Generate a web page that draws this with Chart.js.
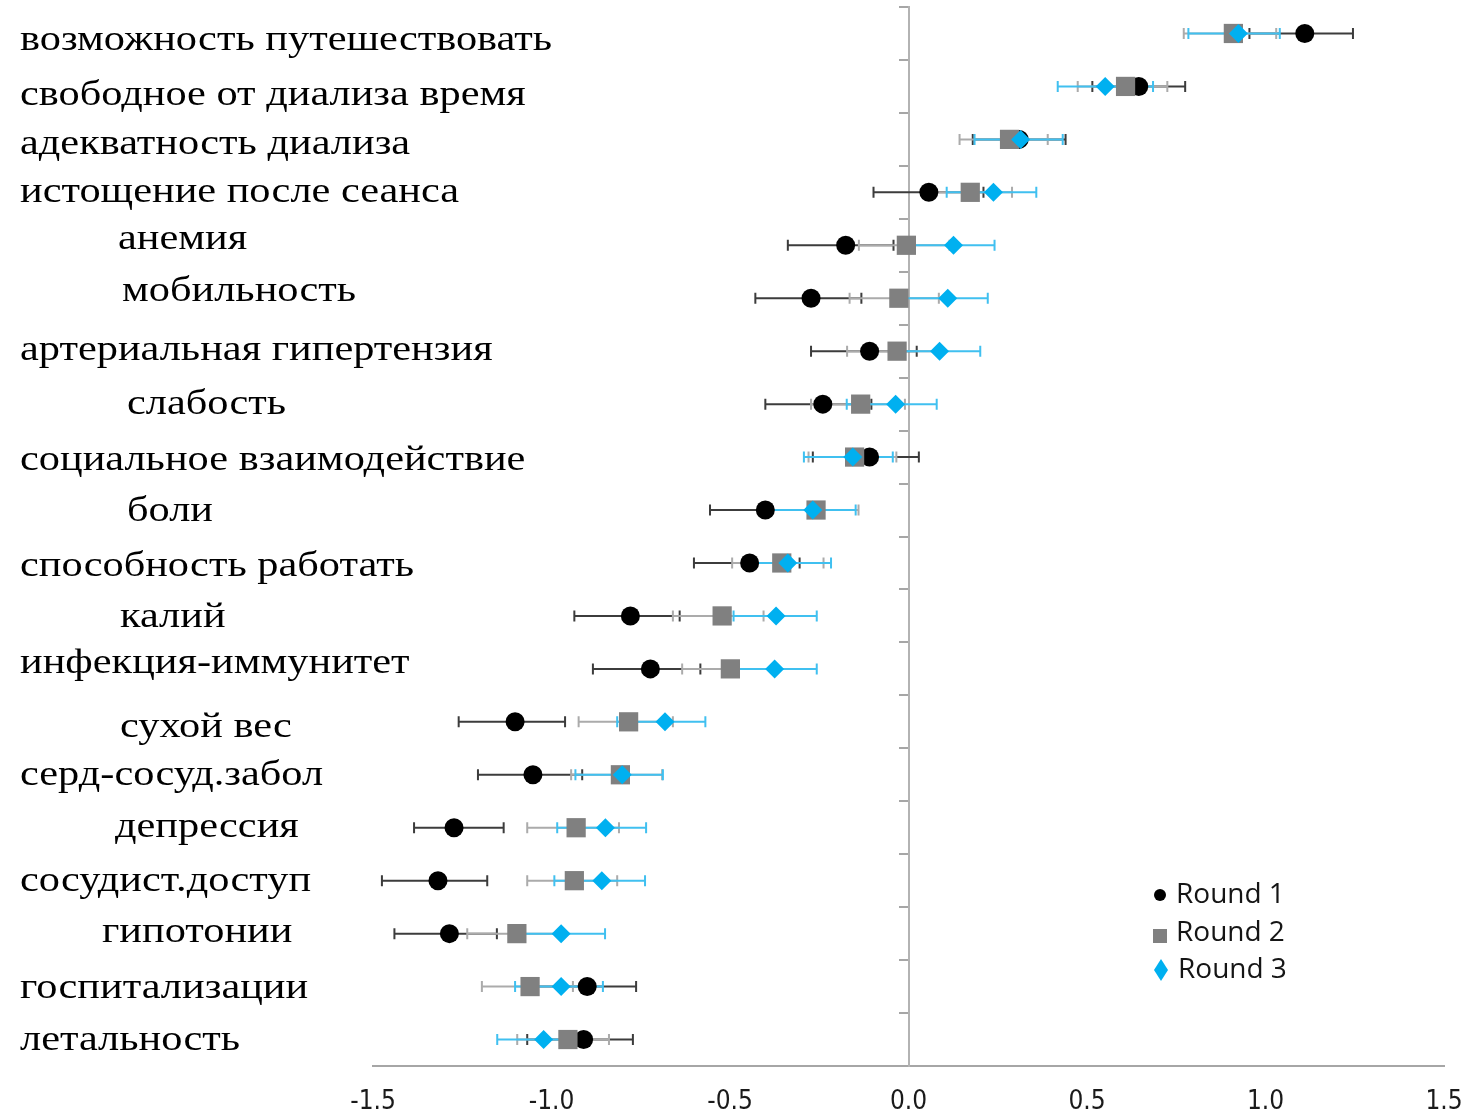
<!DOCTYPE html>
<html lang="ru">
<head>
<meta charset="utf-8">
<title>Round 1–3</title>
<script src="https://cdn.jsdelivr.net/npm/chart.js@4.4.1/dist/chart.umd.min.js"></script>
<style>
  html, body { margin: 0; padding: 0; background: #ffffff; overflow: hidden; }
  #wrap { width: 1466px; height: 1115px; position: relative; }
  canvas { display: block; }
</style>
</head>
<body>
<div id="wrap"><canvas id="chart" width="1466" height="1115"></canvas></div>
<script>
// Items, top to bottom
const categories = [
  'возможность путешествовать',
  'свободное от диализа время',
  'адекватность диализа',
  'истощение после сеанса',
  'анемия',
  'мобильность',
  'артериальная гипертензия',
  'слабость',
  'социальное взаимодействие',
  'боли',
  'способность работать',
  'калий',
  'инфекция-иммунитет',
  'сухой вес',
  'серд-сосуд.забол',
  'депрессия',
  'сосудист.доступ',
  'гипотонии',
  'госпитализации',
  'летальность'
];

// Round 1: estimate, lower and upper bound
const round1 = [1.11, 0.645, 0.31, 0.057, -0.176, -0.273, -0.109, -0.240, -0.109, -0.401,
                -0.445, -0.779, -0.723, -1.102, -1.052, -1.273, -1.318, -1.286, -0.900, -0.910];
const round1Low = [0.955, 0.515, 0.18, -0.098, -0.338, -0.429, -0.273, -0.401, -0.268, -0.556,
                   -0.601, -0.936, -0.884, -1.260, -1.206, -1.385, -1.475, -1.440, -1.040, -1.068];
const round1High = [1.245, 0.775, 0.44, 0.21, -0.042, -0.132, 0.023, -0.104, 0.029, -0.27,
                    -0.305, -0.641, -0.583, -0.962, -0.914, -1.134, -1.180, -1.153, -0.763, -0.772];

// Round 2
const round2 = [0.91, 0.608, 0.283, 0.173, -0.006, -0.027, -0.032, -0.134, -0.151, -0.259,
                -0.355, -0.522, -0.499, -0.784, -0.807, -0.931, -0.936, -1.097, -1.060, -0.954];
const round2Low = [0.771, 0.474, 0.143, 0.056, -0.139, -0.165, -0.172, -0.273, -0.28, -0.39,
                   -0.494, -0.660, -0.634, -0.924, -0.945, -1.068, -1.068, -1.236, -1.195, -1.096];
const round2High = [1.03, 0.725, 0.390, 0.29, 0.115, 0.085, 0.09, -0.01, -0.034, -0.140,
                    -0.238, -0.406, -0.38, -0.66, -0.69, -0.811, -0.816, -0.97, -0.940, -0.839];

// Round 3
const round3 = [0.924, 0.551, 0.314, 0.238, 0.126, 0.110, 0.087, -0.036, -0.156, -0.268,
                -0.338, -0.371, -0.375, -0.682, -0.802, -0.849, -0.859, -0.973, -0.973, -1.022];
const round3Low = [0.784, 0.418, 0.185, 0.107, 0.0, -0.01, -0.03, -0.173, -0.293, -0.39,
                   -0.46, -0.49, -0.50, -0.816, -0.933, -0.984, -0.992, -1.09, -1.102, -1.152];
const round3High = [1.04, 0.685, 0.432, 0.358, 0.241, 0.222, 0.201, 0.079, -0.044, -0.148,
                    -0.217, -0.257, -0.257, -0.569, -0.688, -0.735, -0.738, -0.850, -0.856, -0.91];

const seriesNames = ['Round 1', 'Round 2', 'Round 3'];
const xTickValues = [-1.5, -1.0, -0.5, 0.0, 0.5, 1.0, 1.5];

// Text layout of the item names (left indent in px, vertical nudge in px)
const labelIndent = [20, 20, 20, 20, 118, 122, 20, 127, 20, 127, 20, 120, 20, 120, 20, 115, 20, 102, 20, 20];
const labelNudge  = [9, 11, 7, 2, -4, -5, 1, 2, 5, 3, 5, 3, -4, 7, 2, 1, 2, 0, 3, 2];

const series = [
  { name: seriesNames[0], mean: round1, low: round1Low, high: round1High,
    color: '#000000', barColor: '#3c3c3c', style: 'circle', radius: 9.5 },
  { name: seriesNames[1], mean: round2, low: round2Low, high: round2High,
    color: '#808080', barColor: '#ababab', style: 'rect', radius: 13.6 },
  { name: seriesNames[2], mean: round3, low: round3Low, high: round3High,
    color: '#00b0f0', barColor: '#40c0f0', style: 'rectRot', radius: 9.5 }
];

const rowBoundaries = [];
for (let i = 0; i <= categories.length; i++) rowBoundaries.push(i - 0.5);

// Horizontal error bars, drawn under all markers
const errorBars = {
  id: 'errorBars',
  beforeDatasetsDraw(chart) {
    const { ctx, scales: { x, y } } = chart;
    ctx.save();
    ctx.lineWidth = 2;
    series.forEach(s => {
      ctx.strokeStyle = s.barColor;
      s.mean.forEach((_, i) => {
        const py = y.getPixelForValue(i);
        const x1 = x.getPixelForValue(s.low[i]);
        const x2 = x.getPixelForValue(s.high[i]);
        ctx.beginPath();
        ctx.moveTo(x1, py); ctx.lineTo(x2, py);
        ctx.moveTo(x1, py - 5.5); ctx.lineTo(x1, py + 5.5);
        ctx.moveTo(x2, py - 5.5); ctx.lineTo(x2, py + 5.5);
        ctx.stroke();
      });
    });
    ctx.restore();
  }
};

// Item names to the left of the plot (wide serif face)
const itemLabels = {
  id: 'itemLabels',
  afterDraw(chart) {
    const { ctx, scales: { y } } = chart;
    ctx.save();
    ctx.font = '35px "Liberation Serif", "Times New Roman", serif';
    ctx.fillStyle = '#000000';
    ctx.textAlign = 'left';
    ctx.textBaseline = 'alphabetic';
    categories.forEach((name, i) => {
      const py = y.getPixelForValue(i) + labelNudge[i] + 8;
      ctx.save();
      ctx.translate(labelIndent[i], py);
      ctx.scale(1.21, 1);
      ctx.fillText(name, 0, 0);
      ctx.restore();
    });
    ctx.restore();
  }
};

// Legend in the lower right of the plot
const roundLegend = {
  id: 'roundLegend',
  afterDraw(chart) {
    const { ctx } = chart;
    const area = chart.chartArea;
    const x0 = area.left + 787;
    const rows = [area.bottom - 171, area.bottom - 133, area.bottom - 96];
    ctx.save();
    ctx.font = '28px "Open Sans", sans-serif';
    ctx.textBaseline = 'middle';
    series.forEach((s, k) => {
      const cy = rows[k];
      ctx.fillStyle = s.color;
      ctx.beginPath();
      if (s.style === 'circle') {
        ctx.arc(x0, cy, 6, 0, Math.PI * 2);
      } else if (s.style === 'rect') {
        ctx.rect(x0 - 7, cy + 3 - 7, 14, 14);
      } else {
        ctx.moveTo(x0 + 1, cy - 11);
        ctx.lineTo(x0 + 8, cy);
        ctx.lineTo(x0 + 1, cy + 11);
        ctx.lineTo(x0 - 6, cy);
        ctx.closePath();
      }
      ctx.fill();
      ctx.fillStyle = '#151515';
      ctx.fillText(s.name, x0 + 16 + (k === 2 ? 2 : 0), cy);
    });
    ctx.restore();
  }
};

const datasets = series.map((s, k) => ({
  label: s.name,
  data: s.mean.map((v, i) => ({ x: v, y: i })),
  backgroundColor: s.color,
  borderColor: s.color,
  borderWidth: 0,
  pointStyle: s.style,
  pointRadius: s.radius,
  pointHoverRadius: s.radius,
  showLine: false,
  clip: false,
  order: 2 - k
}));

new Chart(document.getElementById('chart'), {
  type: 'scatter',
  data: { datasets },
  plugins: [errorBars, itemLabels, roundLegend],
  options: {
    responsive: false,
    animation: false,
    events: [],
    layout: { autoPadding: false, padding: { left: 373, right: 22, top: 7, bottom: 0 } },
    plugins: { legend: { display: false }, tooltip: { enabled: false } },
    scales: {
      x: {
        type: 'linear',
        min: -1.5,
        max: 1.5,
        afterBuildTicks: s => { s.ticks = xTickValues.map(v => ({ value: v })); },
        afterFit: s => { s.height = 49; s.paddingLeft = 0; s.paddingRight = 0; },
        grid: { drawOnChartArea: false, drawTicks: false },
        border: { display: true, color: '#a6a6a6', width: 2 },
        ticks: {
          padding: 21,
          color: '#1a1a1a',
          font: { family: '"Liberation Sans Narrow", "DejaVu Sans Condensed", sans-serif', size: 26 },
          callback: v => v.toFixed(1)
        }
      },
      y: {
        type: 'linear',
        reverse: true,
        min: -0.5,
        max: categories.length - 0.5,
        position: { x: 0 },
        afterBuildTicks: s => { s.ticks = rowBoundaries.map(v => ({ value: v })); },
        afterFit: s => { s.paddingTop = 0; s.paddingBottom = 0; },
        grid: { drawOnChartArea: false, drawTicks: true, tickLength: 9, color: '#a6a6a6', lineWidth: 2 },
        border: { display: true, color: '#b3b3b3', width: 2 },
        ticks: { display: false }
      }
    }
  }
});
</script>
</body>
</html>
